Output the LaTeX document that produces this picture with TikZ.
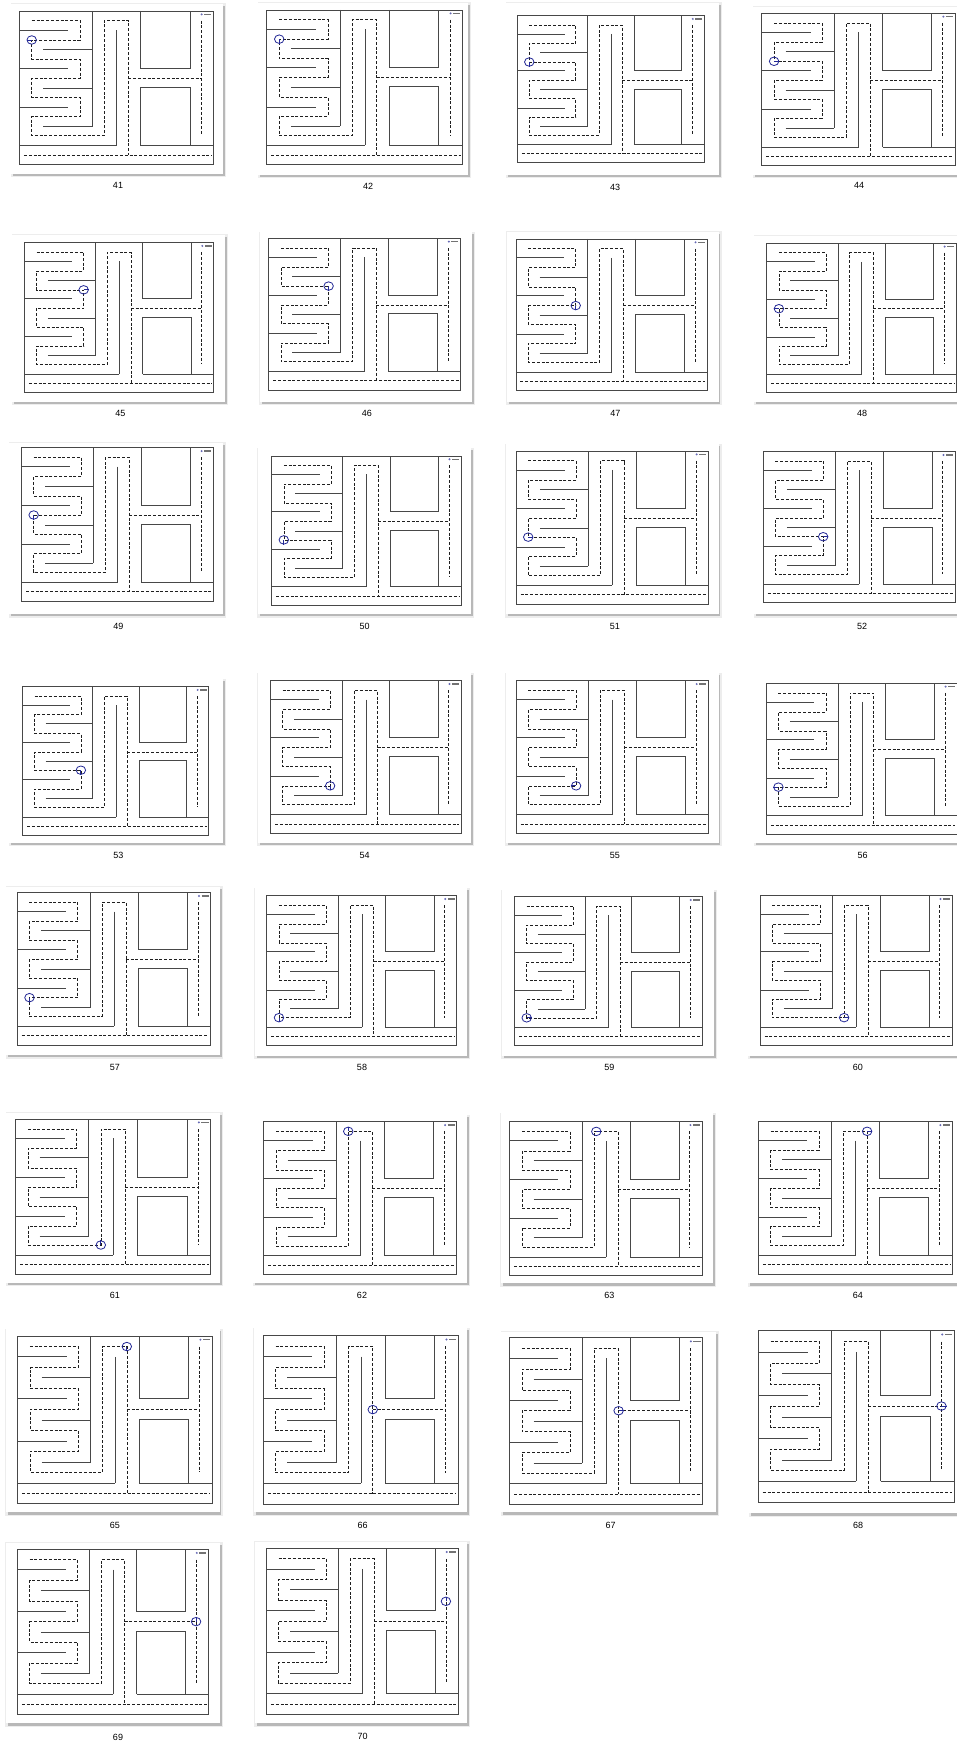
\documentclass[tikz,border=0pt]{standalone}
\usepackage{fontspec}
\setmainfont{Liberation Sans}
\definecolor{mkblue}{RGB}{35,40,150}
\tikzset{
  wall/.style={line width=0.7pt, draw=black!72},
  path dash/.style={line width=0.55pt, draw=black!88, dash pattern=on 3pt off 1.8pt},
  markernode/.style={ellipse, draw=mkblue, line width=0.8pt, minimum width=9.5pt, minimum height=8.5pt, inner sep=0pt},
  markerline/.style={draw=mkblue, line width=0.8pt},
  iconnode/.style={circle, fill=mkblue!70, minimum size=2.2pt, inner sep=0pt},
  lbl/.style={font=\fontsize{9}{10}\selectfont, text=black, inner sep=0pt}
}
\usetikzlibrary{shapes.geometric}
% shadowed white panel
\newcommand\panelbg[4]{%
  \fill[black!7] (#1-0.5,#2-0.5) rectangle (#3+3,#4+3.5);
  \fill[black!28] (#1+2,#2+2) rectangle (#3+1.8,#4+2.2);
  \fill[white] (#1,#2) rectangle (#3,#4);
}
% maze: name, x0, y0, x1, y1, marker u, marker v, heading anchor
\newcommand\maze[8]{%
  \begin{scope}[shift={(#2,#3)}, xscale={#4-#2}, yscale={#5-#3}]
    \draw[wall] (0,0) rectangle (1,1);
    \draw[wall] (0,0.878) -- (0.502,0.878) (0.625,0.878) -- (1,0.878);
    \draw[wall] (0.376,0) -- (0.376,0.754);
    \draw[wall] (0.124,0.25) -- (0.376,0.25) (0.124,0.504) -- (0.376,0.504) (0.124,0.754) -- (0.376,0.754);
    \draw[wall] (0,0.124) -- (0.253,0.124) (0,0.374) -- (0.253,0.374) (0,0.628) -- (0.253,0.628);
    \draw[wall] (0.502,0.124) -- (0.502,0.878);
    \draw[wall] (0.625,0) -- (0.625,0.374) -- (0.880,0.374) -- (0.880,0);
    \draw[wall] (0.625,0.878) -- (0.625,0.498) -- (0.880,0.498) -- (0.880,0.878);
    \draw[path dash] (0.064,0.063) -- (0.313,0.063) -- (0.313,0.189) -- (0.064,0.189)
      -- (0.064,0.315) -- (0.313,0.315) -- (0.313,0.439) -- (0.064,0.439)
      -- (0.064,0.563) -- (0.313,0.563) -- (0.313,0.689) -- (0.064,0.689)
      -- (0.064,0.813) -- (0.438,0.813) -- (0.438,0.063) -- (0.562,0.063) -- (0.562,0.939);
    \draw[path dash] (0.562,0.439) -- (0.936,0.439);
    \draw[path dash] (0.936,0.063) -- (0.936,0.813);
    \draw[path dash] (0.024,0.939) -- (0.991,0.939);
    \node[iconnode] (ic#1) at (0.94,0.022) {};
    \draw[black!55, line width=1.3pt] (0.953,0.022) -- (0.99,0.022);
    \coordinate (m#1) at (#6,#7);
  \end{scope}
  \node[markernode] (k#1) at (m#1) {};
  \draw[markerline] (k#1.center) -- (k#1.#8);
}
\begin{document}
\begin{tikzpicture}[x=1pt, y=-1pt]
\useasboundingbox (0,0) rectangle (957,1744);
\clip (0,0) rectangle (957,1744);
\fill[white] (0,0) rectangle (957,1744);

% ---- row 1
\panelbg{11}{4}{223}{174}
\maze{41}{19.3}{11}{213.3}{164.3}{0.064}{0.189}{west}
\node[lbl] (l41) at (118,185) {41};
\panelbg{258}{3}{468}{175}
\maze{42}{266.7}{10}{462.3}{164.3}{0.064}{0.189}{south}
\node[lbl] (l42) at (368,186) {42};
\panelbg{506}{3}{719}{175}
\maze{43}{517.3}{15.7}{704}{162.7}{0.064}{0.315}{south}
\node[lbl] (l43) at (615,187) {43};
\panelbg{753}{7}{970}{175}
\maze{44}{761.7}{13.3}{955}{165.7}{0.064}{0.315}{east}
\node[lbl] (l44) at (859,185) {44};

% ---- row 2
\panelbg{12.2}{235}{224.7}{401.7}
\maze{45}{24.4}{242.7}{213.7}{392.3}{0.313}{0.315}{east}
\node[lbl] (l45) at (120.3,413.3) {45};
\panelbg{259.5}{232.3}{471.9}{401.7}
\maze{46}{268.6}{238.3}{460.3}{390}{0.313}{0.315}{south}
\node[lbl] (l46) at (366.9,413.3) {46};
\panelbg{506.7}{231.7}{718.6}{401.7}
\maze{47}{515.9}{239}{707}{390.7}{0.313}{0.439}{south}
\node[lbl] (l47) at (615.4,413.3) {47};
\panelbg{754}{235.7}{970}{401.7}
\maze{48}{766.8}{243.3}{956}{392.3}{0.064}{0.439}{west}
\node[lbl] (l48) at (862,413.3) {48};

% ---- row 3
\panelbg{9.2}{442.7}{222.8}{614}
\maze{49}{21.4}{447.7}{213.1}{601}{0.064}{0.439}{south}
\node[lbl] (l49) at (118.4,626.7) {49};
\panelbg{257.6}{448.3}{471.3}{614}
\maze{50}{271.7}{456}{460.9}{605}{0.064}{0.563}{south}
\node[lbl] (l50) at (364.5,626.7) {50};
\panelbg{505.5}{444}{718.6}{614}
\maze{51}{515.9}{451}{708.2}{604}{0.064}{0.563}{east}
\node[lbl] (l51) at (614.8,626.7) {51};
\panelbg{754}{446}{970}{614}
\maze{52}{763.1}{451.7}{955}{602.7}{0.313}{0.563}{east}
\node[lbl] (l52) at (862,626.7) {52};

% ---- row 4
\panelbg{9.2}{679.3}{222.8}{842.7}
\maze{53}{22.6}{686.7}{208.8}{835}{0.313}{0.563}{south}
\node[lbl] (l53) at (118.4,855.7) {53};
\panelbg{257.6}{673.3}{471.3}{842.7}
\maze{54}{270.5}{680.7}{460.9}{833.3}{0.313}{0.689}{south}
\node[lbl] (l54) at (364.5,855.7) {54};
\panelbg{505.5}{673.3}{718.6}{842.7}
\maze{55}{515.9}{680.7}{708.2}{833.3}{0.313}{0.689}{west}
\node[lbl] (l55) at (614.8,855.7) {55};
\panelbg{754}{675}{970}{842.7}
\maze{56}{766.2}{683.3}{957}{834}{0.064}{0.689}{west}
\node[lbl] (l56) at (862.6,855.7) {56};

% ---- row 5
\panelbg{6.1}{886.7}{219.8}{1055}
\maze{57}{17.1}{892.7}{210.6}{1045}{0.064}{0.689}{south}
\node[lbl] (l57) at (114.8,1067.7) {57};
\panelbg{254.6}{888.3}{467}{1055.7}
\maze{58}{266.8}{895.7}{456.7}{1045.7}{0.064}{0.813}{south}
\node[lbl] (l58) at (362,1067.7) {58};
\panelbg{501.8}{890}{714.3}{1055.7}
\maze{59}{514.7}{896.7}{702}{1045.7}{0.064}{0.813}{east}
\node[lbl] (l59) at (609.3,1067.7) {59};
\panelbg{748}{889}{970}{1055.7}
\maze{60}{760}{895.7}{952}{1045.7}{0.438}{0.813}{east}
\node[lbl] (l60) at (857.8,1067.7) {60};

% ---- row 6
\panelbg{6.1}{1112.7}{219.8}{1282.7}
\maze{61}{15.3}{1119}{210.6}{1274}{0.438}{0.813}{north}
\node[lbl] (l61) at (114.8,1295) {61};
\panelbg{253.4}{1115}{467}{1282.7}
\maze{62}{263.7}{1121.7}{456.7}{1274.3}{0.438}{0.063}{north}
\node[lbl] (l62) at (362,1295) {62};
\panelbg{500.6}{1113.3}{713}{1283.3}
\maze{63}{509.8}{1121.7}{702}{1275.7}{0.45}{0.063}{east}
\node[lbl] (l63) at (609.3,1295) {63};
\panelbg{748}{1115}{970}{1283.3}
\maze{64}{758.2}{1121.7}{952}{1274}{0.562}{0.063}{east}
\node[lbl] (l64) at (857.8,1295) {64};

% ---- row 7
\panelbg{5.5}{1329}{219.5}{1512.3}
\maze{65}{17.4}{1336}{212.1}{1503.3}{0.562}{0.063}{south}
\node[lbl] (l65) at (114.8,1525.7) {65};
\panelbg{253.9}{1328.3}{467.4}{1512.3}
\maze{66}{263.1}{1335.7}{458.2}{1504}{0.562}{0.439}{south}
\node[lbl] (l66) at (362.7,1525.7) {66};
\panelbg{501.4}{1331.7}{716.3}{1512.3}
\maze{67}{509.6}{1337.7}{702.5}{1504}{0.565}{0.439}{east}
\node[lbl] (l67) at (610.7,1525.7) {67};
\panelbg{749}{1325}{970}{1513.3}
\maze{68}{758}{1330.7}{954}{1502.3}{0.936}{0.439}{east}
\node[lbl] (l68) at (858,1525) {68};

% ---- row 8
\panelbg{5.7}{1542.7}{220}{1723.3}
\maze{69}{17.3}{1549.3}{208.3}{1714}{0.936}{0.439}{north}
\node[lbl] (l69) at (118,1737.5) {69};
\panelbg{254.8}{1541.7}{467.4}{1723.3}
\maze{70}{266.3}{1548.3}{458.2}{1714}{0.936}{0.32}{north}
\node[lbl] (l70) at (362.7,1736.7) {70};
\end{tikzpicture}
\end{document}
